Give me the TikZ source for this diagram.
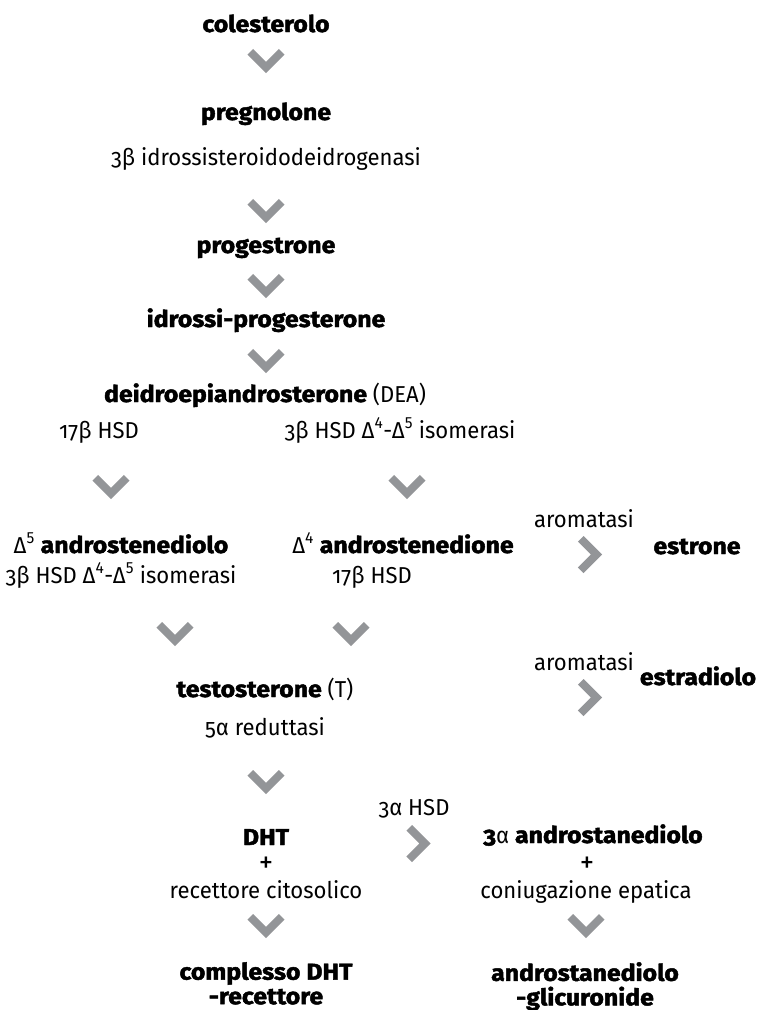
\documentclass[tikz,border=0pt]{standalone}
\usepackage{fontspec}
\setmainfont{Fira Sans}[Numbers=OldStyle, FakeStretch=0.96, BoldFeatures={FakeStretch=1.08, FakeBold=2}]
\usetikzlibrary{calc}
\definecolor{chevgray}{RGB}{147,149,152}
\newcommand{\sz}{\fontsize{23}{24.5}\selectfont}
\newcommand{\sups}[1]{\textsuperscript{\addfontfeatures{Numbers=Lining}#1}}
\tikzset{
	chem/.style = {font=\sz\bfseries, inner sep=0, anchor=base},
	enz/.style = {font=\sz, inner sep=0, anchor=base},
	chev/.style = {draw=chevgray, line width=7.8pt, line join=miter, line cap=butt}
}
\newcommand{\chevd}[2]{
	\draw[chev] ($(#1,-#2)+(-15.75,9.25)$) -- ++(15.75,-15.75) -- ++(15.75,15.75);
}
\newcommand{\chevr}[2]{
	\draw[chev] ($(#1,-#2)+(-9.25,15.75)$) -- ++(15.75,-15.75) -- ++(-15.75,-15.75);
}
\begin{document}
\begin{tikzpicture}[x=1pt, y=1pt]

		\useasboundingbox (0,0) rectangle (760,-1010);

		\node[chem] (colest) at (266,-32) {colesterolo};
		\chevd{266}{61}
		\node[chem] (pregn) at (266,-120) {pregnolone};
		\node[enz] (hsdA) at (266,-165) {3β idrossisteroidodeidrogenasi};
		\chevd{266}{211}
		\node[chem] (progest) at (266,-253) {progestrone};
		\chevd{266}{286}
		\node[chem] (idross) at (266,-327) {idrossi-progesterone};
		\chevd{266}{361}
		\node[enz] (dea) at (265,-402) {\textbf{deidroepiandrosterone} (DEA)};

		\node[enz] (hsdB) at (99,-438) {17β HSD};
		\node[enz] (isomA) at (400,-438) {3β HSD Δ\sups{4}-Δ\sups{5} isomerasi};
		\chevd{111}{487}
		\chevd{407}{487}

		\node[enz] (andiol) at (121,-553) {Δ\sups{5} \textbf{androstenediolo}};
		\node[enz] (isomB) at (121,-583) {3β HSD Δ\sups{4}-Δ\sups{5} isomerasi};
		\node[enz] (andione) at (403,-553) {Δ\sups{4} \textbf{androstenedione}};
		\node[enz] (hsdC) at (372,-583) {17β HSD};
		\node[enz] (aromA) at (584,-527) {aromatasi};
		\chevr{590}{554.5}
		\node[chem] (estrone) at (697,-554) {estrone};

		\chevd{175}{634}
		\chevd{351}{634}
		\node[enz] (testo) at (265,-697) {\textbf{testosterone} (T)};
		\node[enz] (redutt) at (265,-735) {5α reduttasi};
		\node[enz] (aromB) at (584,-670) {aromatasi};
		\chevr{590}{697.5}
		\node[chem] (estrad) at (698,-685) {estradiolo};
		\chevd{266}{782}

		\node[enz] (hsdD) at (414,-815) {3α HSD};
		\chevr{418.5}{843.5}
		\node[chem] (dht) at (266,-845) {DHT};
		\node[enz, scale=1.3] (plusA) at (266,-872) {+};
		\node[enz] (recett) at (266,-898) {recettore citosolico};
		\node[enz] (andros) at (593,-843) {\textbf{3}α \textbf{androstanediolo}};
		\node[enz, scale=1.3] (plusB) at (587,-872) {+};
		\node[enz] (coniug) at (586,-898) {coniugazione epatica};
		\chevd{266}{926}
		\chevd{586}{926}
		\node[chem, align=center, anchor=north] (cplx) at (266,-962) {complesso DHT\\-recettore};
		\node[chem, align=center, anchor=north] (gluc) at (585,-962) {androstanediolo\\-glicuronide};
	\end{tikzpicture}
\end{document}
